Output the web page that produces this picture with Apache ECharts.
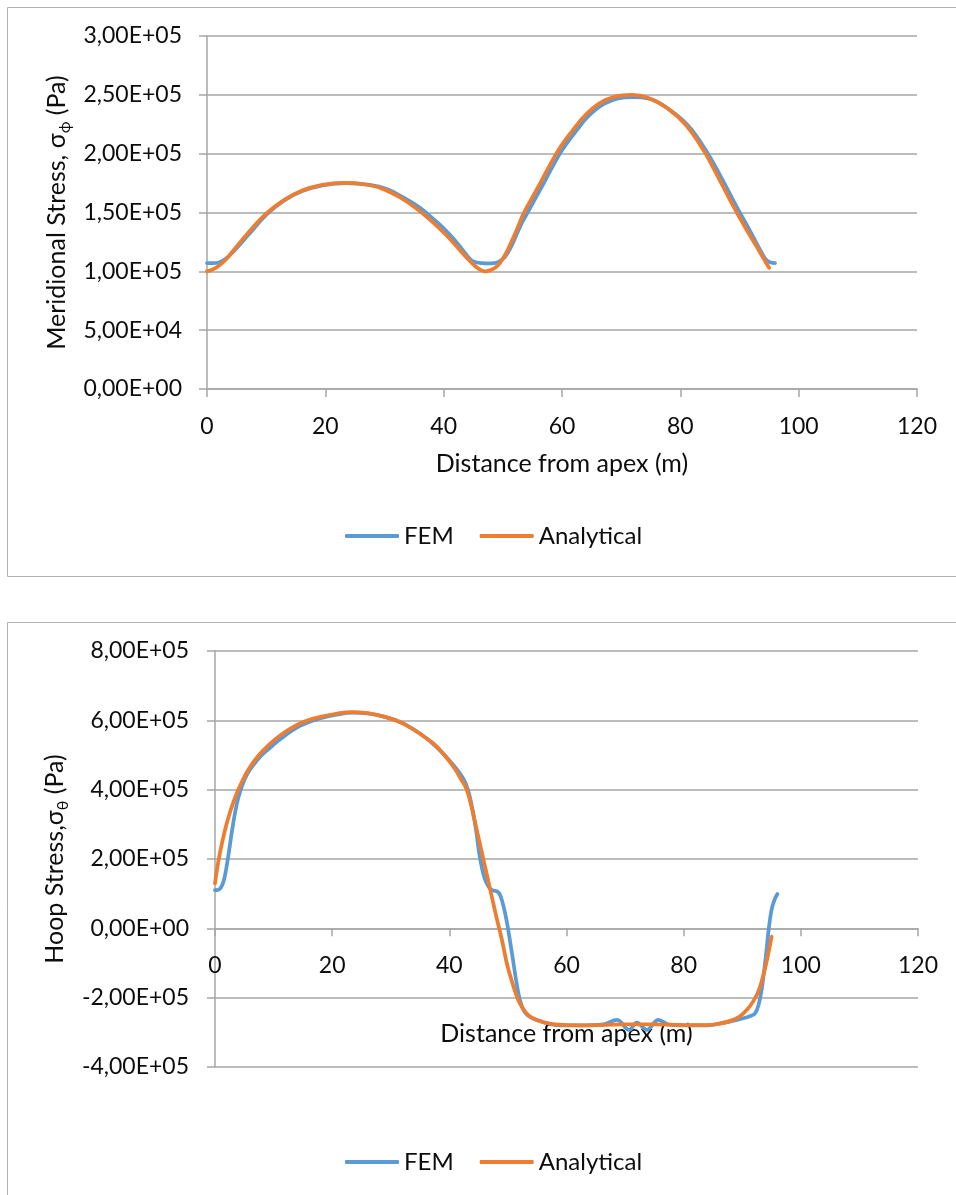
<!DOCTYPE html>
<html>
<head>
<meta charset="utf-8">
<script src="https://cdn.jsdelivr.net/npm/echarts@6/dist/echarts.min.js"></script>
<style>
html,body{margin:0;padding:0;background:#fff;}
#chart{width:956px;height:1195px;}
</style>
</head>
<body>
<div id="chart"></div>
<script>
// ---------- Data: Meridional stress (top chart) ----------
const merFemX = [0, 1, 2, 3, 4.5, 7, 10, 13, 16, 19.5, 23.5, 27.5, 30.4, 33.1, 36, 38.6, 40.2, 41.7, 43.0, 44.0, 44.8, 45.6, 46.5, 47.5, 48.5, 49.3, 50.3, 51.3, 52.3, 53.3, 54.1, 55.5, 56.9, 58.4, 60, 62.5, 64.5, 67, 69.5, 72, 74.5, 78, 81.3, 84.3, 87, 89.5, 91.5, 93.3, 94.3, 95, 96];
const merFemY = [1.07e5, 1.07e5, 1.075e5, 1.10e5, 1.17e5, 1.31e5, 1.48e5, 1.60e5, 1.68e5, 1.73e5, 1.75e5, 1.735e5, 1.70e5, 1.63e5, 1.54e5, 1.43e5, 1.355e5, 1.275e5, 1.195e5, 1.13e5, 1.09e5, 1.075e5, 1.07e5, 1.068e5, 1.07e5, 1.08e5, 1.12e5, 1.20e5, 1.31e5, 1.42e5, 1.49e5, 1.62e5, 1.747e5, 1.89e5, 2.03e5, 2.20e5, 2.32e5, 2.42e5, 2.47e5, 2.48e5, 2.47e5, 2.38e5, 2.24e5, 2.03e5, 1.79e5, 1.55e5, 1.37e5, 1.20e5, 1.11e5, 1.08e5, 1.07e5];
const merAnaX = [0, 1.5, 3, 4.5, 7, 10, 13, 16, 19.5, 23.3, 26.5, 29.5, 32.5, 35.4, 38, 40.5, 42.5, 44, 45.3, 46.3, 47, 47.8, 48.7, 49.5, 50.5, 51.5, 52.5, 53.5, 54.9, 56.3, 57.8, 59.4, 60.7, 61.9, 64, 66.4, 69, 71.8, 74.5, 77.7, 81, 83.9, 86.5, 89, 91, 92.9, 95];
const merAnaY = [1.0e5, 1.03e5, 1.09e5, 1.18e5, 1.33e5, 1.49e5, 1.605e5, 1.685e5, 1.735e5, 1.752e5, 1.74e5, 1.705e5, 1.632e5, 1.534e5, 1.425e5, 1.305e5, 1.195e5, 1.11e5, 1.045e5, 1.01e5, 1.0e5, 1.008e5, 1.03e5, 1.07e5, 1.15e5, 1.255e5, 1.37e5, 1.49e5, 1.62e5, 1.747e5, 1.89e5, 2.03e5, 2.125e5, 2.204e5, 2.33e5, 2.43e5, 2.485e5, 2.50e5, 2.475e5, 2.39e5, 2.24e5, 2.03e5, 1.79e5, 1.55e5, 1.37e5, 1.21e5, 1.03e5];

// ---------- Data: Hoop stress (bottom chart) ----------
const hoopFemX = [0, 0.5, 1.0, 1.5, 2.0, 2.5, 3.0, 3.5, 4.0, 4.7, 5.5, 6.5, 8, 9.5, 11, 14.5, 18, 21, 23.5, 26, 29, 32, 35, 38, 40.5, 42.5, 43.5, 44.5, 45.2, 46, 46.7, 47.3, 48.3, 48.8, 49.3, 49.8, 50.3, 50.9, 51.5, 52.1, 52.8, 53.8, 56, 58.3, 62, 66.3, 68.6, 70.7, 72, 73.7, 75.7, 77.5, 80, 84, 87, 89.1, 90.5, 91.5, 92.2, 92.8, 93.3, 94.0, 94.5, 95.0, 95.5, 96];
const hoopFemY = [1.10e5, 1.11e5, 1.17e5, 1.38e5, 1.80e5, 2.35e5, 2.92e5, 3.40e5, 3.78e5, 4.15e5, 4.45e5, 4.70e5, 5.00e5, 5.22e5, 5.44e5, 5.84e5, 6.06e5, 6.17e5, 6.22e5, 6.20e5, 6.10e5, 5.92e5, 5.62e5, 5.20e5, 4.75e5, 4.28e5, 3.79e5, 2.90e5, 2.06e5, 1.45e5, 1.20e5, 1.10e5, 1.05e5, 9.0e4, 6.0e4, 2.0e4, -3.0e4, -9.5e4, -1.6e5, -2.1e5, -2.4e5, -2.56e5, -2.70e5, -2.79e5, -2.80e5, -2.77e5, -2.64e5, -2.93e5, -2.72e5, -2.93e5, -2.64e5, -2.78e5, -2.80e5, -2.80e5, -2.72e5, -2.64e5, -2.58e5, -2.52e5, -2.45e5, -2.2e5, -1.78e5, -8.5e4, -5.0e3, 5.3e4, 8.2e4, 9.9e4];
const hoopAnaX = [0, 0.4, 0.9, 1.7, 2.6, 3.7, 4.8, 6, 7.4, 8.8, 11, 14.5, 18, 21, 23.3, 26, 29, 31.6, 34, 37.3, 39, 40.7, 42, 43, 44, 45, 46, 47, 48, 49, 49.8, 50.8, 51.8, 53, 54, 56, 58, 62, 66, 70, 75, 80, 84, 86, 88, 89.5, 90.8, 91.9, 92.8, 93.6, 94.3, 95];
const hoopAnaY = [1.30e5, 1.76e5, 2.22e5, 2.83e5, 3.37e5, 3.89e5, 4.30e5, 4.66e5, 4.98e5, 5.23e5, 5.55e5, 5.91e5, 6.10e5, 6.20e5, 6.24e5, 6.21e5, 6.10e5, 5.95e5, 5.72e5, 5.33e5, 5.03e5, 4.66e5, 4.30e5, 3.99e5, 3.35e5, 2.60e5, 1.85e5, 1.10e5, 3.5e4, -3.5e4, -1.0e5, -1.6e5, -2.08e5, -2.42e5, -2.57e5, -2.71e5, -2.77e5, -2.80e5, -2.79e5, -2.77e5, -2.77e5, -2.79e5, -2.79e5, -2.75e5, -2.67e5, -2.55e5, -2.35e5, -2.10e5, -1.80e5, -1.35e5, -8.5e4, -2.4e4];

const seriesNames = ['FEM', 'Analytical'];
const seriesColors = ['#5B9BD5', '#ED7D31'];
const xTitle = 'Distance from apex (m)';

function pairs(xs, ys) { return xs.map((x, i) => [x, ys[i]]); }
function sci(v) {
  const s = Number(v).toExponential(2);
  const parts = s.split('e');
  const e = parseInt(parts[1], 10);
  const sign = e < 0 ? '-' : '+';
  return parts[0].replace('.', ',') + 'E' + sign + String(Math.abs(e)).padStart(2, '0');
}

const FONT = 'Lato';
const FS = 23;
const NFS = 25;
const TXT = '#0d0d0d';
const GRAY = '#a6a6a6';

function xAxisCfg(gridIndex, gap, labelMargin, offset) {
  return {
    type: 'value', gridIndex: gridIndex, min: 0, max: 120, interval: 20,
    offset: offset,
    name: xTitle, nameLocation: 'middle', nameGap: gap,
    nameTextStyle: { fontFamily: FONT, fontSize: NFS, color: TXT },
    axisLine: { show: true, onZero: false, lineStyle: { color: GRAY, width: 1.5 } },
    axisTick: { show: true, length: 8, lineStyle: { color: GRAY, width: 1.5 } },
    axisLabel: { fontFamily: FONT, fontSize: FS, color: TXT, margin: labelMargin },
    splitLine: { show: false }
  };
}
function yAxisCfg(gridIndex, min, max, interval, nameStr, sub, gap, labelMargin) {
  return {
    type: 'value', gridIndex: gridIndex, min: min, max: max, interval: interval,
    name: nameStr + '{sub|' + sub + '} (Pa)', nameLocation: 'middle', nameGap: gap,
    nameTextStyle: {
      fontFamily: FONT, fontSize: NFS, color: TXT, lineHeight: 32,
      rich: { sub: { fontFamily: FONT, fontSize: 16, color: TXT, verticalAlign: 'bottom', lineHeight: 16 } }
    },
    axisLine: { show: true, lineStyle: { color: GRAY, width: 1.5 } },
    axisTick: { show: true, length: 8, lineStyle: { color: GRAY, width: 1.5 } },
    axisLabel: { fontFamily: FONT, fontSize: FS, color: TXT, margin: labelMargin, formatter: sci },
    splitLine: { show: true, lineStyle: { color: GRAY, width: 1.5 } }
  };
}
function lineSeries(name, color, xi, yi, data) {
  return {
    name: name, type: 'line', xAxisIndex: xi, yAxisIndex: yi, data: data,
    smooth: 0.4, symbol: 'none', showSymbol: false,
    lineStyle: { color: color, width: 3.75, cap: 'round', join: 'round' },
    itemStyle: { color: color }, animation: false
  };
}
function legendCfg(top) {
  return {
    data: seriesNames, left: 345, top: top, padding: 0, icon: 'roundRect', itemWidth: 54, itemHeight: 4, itemGap: 26,
    textStyle: { fontFamily: FONT, fontSize: 24, color: TXT }
  };
}

const chart = echarts.init(document.getElementById('chart'), null, { renderer: 'canvas' });
chart.setOption({
  backgroundColor: '#fff',
  animation: false,
  graphic: [
    { type: 'rect', shape: { x: 7.5, y: 7.5, width: 980, height: 569 }, style: { fill: 'none', stroke: '#b0b0b0', lineWidth: 1 } },
    { type: 'rect', shape: { x: 7.5, y: 622.5, width: 980, height: 620 }, style: { fill: 'none', stroke: '#b0b0b0', lineWidth: 1 } }
  ],
  grid: [
    { left: 207, top: 36, width: 710, height: 353, containLabel: false },
    { left: 215, top: 651, width: 703, height: 416, containLabel: false }
  ],
  legend: [legendCfg(524), legendCfg(1150)],
  xAxis: [xAxisCfg(0, 62, 26, 0), xAxisCfg(1, 93, 26, -138.67)],
  yAxis: [
    yAxisCfg(0, 0, 3e5, 5e4, 'Meridional Stress, σ', 'ϕ', 134, 25),
    yAxisCfg(1, -4e5, 8e5, 2e5, 'Hoop Stress,σ', 'θ', 142, 26)
  ],
  series: [
    lineSeries(seriesNames[0], seriesColors[0], 0, 0, pairs(merFemX, merFemY)),
    lineSeries(seriesNames[1], seriesColors[1], 0, 0, pairs(merAnaX, merAnaY)),
    lineSeries(seriesNames[0], seriesColors[0], 1, 1, pairs(hoopFemX, hoopFemY)),
    lineSeries(seriesNames[1], seriesColors[1], 1, 1, pairs(hoopAnaX, hoopAnaY))
  ]
});
</script>
</body>
</html>
